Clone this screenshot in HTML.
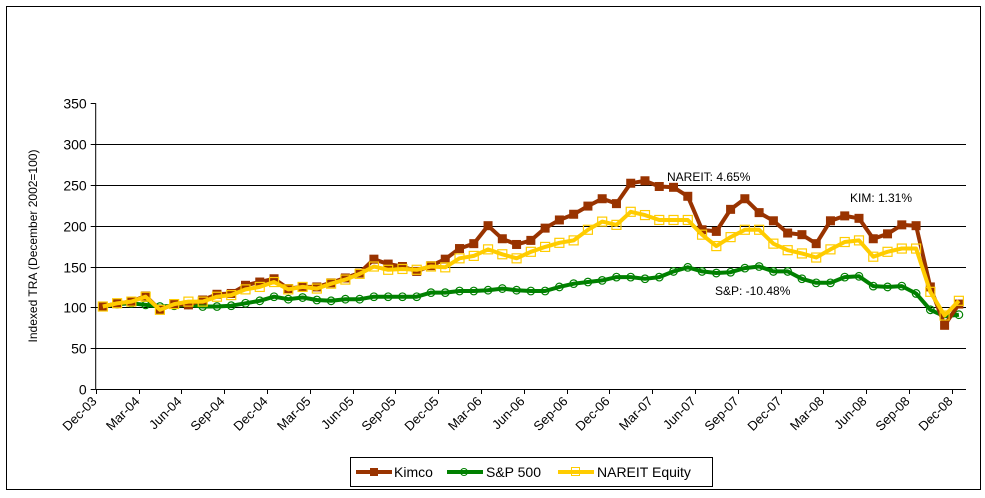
<!DOCTYPE html>
<html><head><meta charset="utf-8">
<style>
html,body{margin:0;padding:0;background:#fff;}
svg{display:block;font-family:"Liberation Sans",Arial,sans-serif;}
</style></head>
<body>
<svg id="chart" width="985" height="498" viewBox="0 0 985 498">
<rect x="6.5" y="6.5" width="974" height="483" fill="#fff" stroke="#000" stroke-width="1"/>
<g id="grid"></g>
<g id="yaxis"></g>
<g id="xaxis"></g>
<text transform="translate(37,246) rotate(-90)" text-anchor="middle" font-size="12">Indexed TRA (December 2002=100)</text>
<g id="series"></g>
<text x="667" y="181" font-size="12">NAREIT: 4.65%</text>
<text x="850" y="202" font-size="12">KIM: 1.31%</text>
<text x="715" y="295" font-size="12">S&amp;P: -10.48%</text>
<g>
<rect x="350.5" y="457.5" width="362" height="29" fill="#fff" stroke="#000"/>
<g>
<line x1="356" y1="472" x2="392" y2="472" stroke="#993300" stroke-width="4"/>
<rect x="370" y="468" width="8" height="8" fill="#993300"/>
<text x="394" y="477" font-size="14">Kimco</text></g>
<g>
<line x1="447" y1="472" x2="483" y2="472" stroke="#008000" stroke-width="4"/>
<circle cx="464" cy="472" r="3.5" fill="none" stroke="#008000"/>
<text x="486" y="477" font-size="14">S&amp;P 500</text></g>
<g>
<line x1="558" y1="472" x2="594" y2="472" stroke="#FFCC00" stroke-width="4"/>
<rect x="571.5" y="467.5" width="8" height="8" fill="none" stroke="#FFCC00"/>
<text x="597" y="477" font-size="14">NAREIT Equity</text></g>
</g>
</svg>
<script>
const xLabels = ["Dec-03","Mar-04","Jun-04","Sep-04","Dec-04","Mar-05","Jun-05","Sep-05","Dec-05","Mar-06","Jun-06","Sep-06","Dec-06","Mar-07","Jun-07","Sep-07","Dec-07","Mar-08","Jun-08","Sep-08","Dec-08"];
const yTicks = [0,50,100,150,200,250,300,350];
const kimco = [101,105,107,114,97,104,103,109,116,117,127,131,135,123,125,125,130,136,142,159,153,150,144,151,159,172,178,200,184,177,182,197,207,214,224,233,227,252,255,248,247,236,195,193,220,233,216,206,191,189,178,206,212,209,184,190,201,200,125,78,104];
const sp500 = [101,104,105,103,101,102,103,101,101,102,105,108,113,110,112,109,108,110,110,113,113,113,113,118,118,120,120,121,123,121,120,120,125,129,131,133,137,137,135,137,144,149,144,142,143,148,150,144,144,135,130,130,137,138,126,125,126,117,97,89,91];
const nareit = [101,105,107,113,97,104,107,107,113,115,122,125,131,122,125,123,129,134,141,150,146,147,146,150,149,160,163,171,165,160,168,174,179,182,195,205,201,217,213,207,207,207,189,175,186,195,195,178,170,166,161,171,180,182,162,168,172,172,119,90,108];

const NS="http://www.w3.org/2000/svg";
const X0=95.7, X1=966, Y0=389, Y350=103.2, N=61;
const step=(X1-X0)/N;
function xPt(i){return X0+step*(i+0.5);}
function xTick(i){return X0+step*3*i;}
function yv(v){return Y0-(Y0-Y350)*v/350;}
function mk(tag,attrs,parent){const e=document.createElementNS(NS,tag);for(const k in attrs)e.setAttribute(k,attrs[k]);parent.appendChild(e);return e;}
const grid=document.getElementById('grid'),ya=document.getElementById('yaxis'),xa=document.getElementById('xaxis'),sg=document.getElementById('series');
yTicks.forEach(t=>{
  const y=Math.round(yv(t))+0.5;
  if(t>0&&t<350){const g=mk('line',{x1:X0,x2:X1,y1:y,y2:y,stroke:'#000','stroke-width':1},grid);
    
    }
  mk('line',{x1:X0-5,x2:X0,y1:y,y2:y,stroke:'#000'},ya);
  const tx=mk('text',{x:X0-9,y:y+5,'text-anchor':'end','font-size':14},ya);
  tx.textContent=t;
  
  
});
mk('line',{x1:X0,x2:X0,y1:Y350,y2:Y0,stroke:'#000'},ya);
mk('line',{x1:X0,x2:X1,y1:Y0+0.5,y2:Y0+0.5,stroke:'#000'},xa);
xLabels.forEach((l,i)=>{
  const x=Math.round(xTick(i))+0.5;
  mk('line',{x1:x,x2:x,y1:Y0,y2:Y0+5,stroke:'#000'},xa);
  const tx=mk('text',{x:0,y:0,'text-anchor':'end','font-size':13,transform:`translate(${x+1},${Y0+13}) rotate(-45)`},xa);
  tx.textContent=l;
  
  
});
function drawSeries(vals,color,kind,name){
  const g=mk('g',{},sg);
  
  
  const pts=vals.map((v,i)=>xPt(i).toFixed(1)+','+yv(v).toFixed(1)).join(' ');
  const pl=mk('polyline',{points:pts,fill:'none',stroke:color,'stroke-width':4,'stroke-linejoin':'round'},g);
  
  
  vals.forEach((v,i)=>{
    const x=xPt(i),y=yv(v);let m;
    if(kind==='fill')m=mk('rect',{x:x-4.5,y:y-4.5,width:9,height:9,fill:color},g);
    else if(kind==='square')m=mk('rect',{x:x-4.5,y:y-4.5,width:9,height:9,fill:'none',stroke:color,'stroke-width':1.2},g);
    else m=mk('circle',{cx:x,cy:y,r:3.8,fill:'none',stroke:color,'stroke-width':1.2},g);
    
    
  });
}
drawSeries(sp500,'#008000','circle','sp500');
drawSeries(kimco,'#993300','fill','kimco');
drawSeries(nareit,'#FFCC00','square','nareit');
</script>
</body></html>
